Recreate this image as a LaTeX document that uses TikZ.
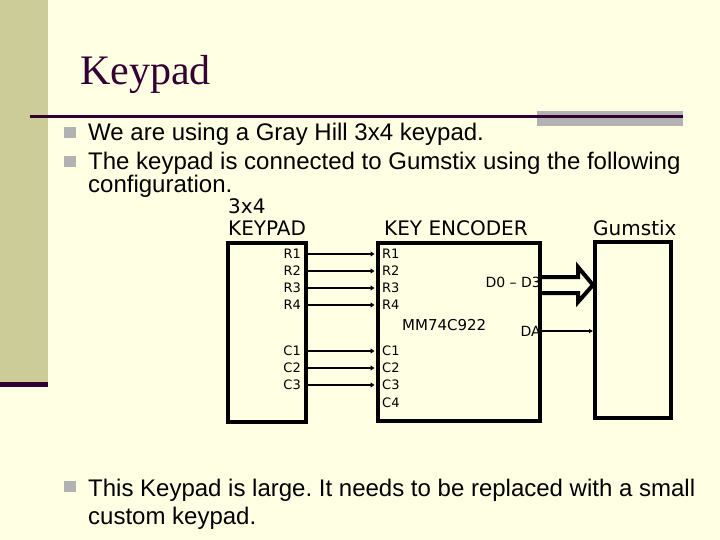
\documentclass[tikz,border=0pt]{standalone}
\usepackage{fontspec}
\setmainfont{Liberation Sans}
\newfontfamily\titlefont{Liberation Serif}
\newfontfamily\schemfont{DejaVu Sans}
\usepackage{xcolor}
\usetikzlibrary{positioning, arrows.meta, calc}
\frenchspacing

\definecolor{slidebg}{HTML}{FFFFE3}
\definecolor{stripcol}{HTML}{CCCC99}
\definecolor{plum}{HTML}{330033}
\definecolor{bulletgray}{HTML}{B2B2B2}

\tikzset{
  bodytext/.style={anchor=base west, inner sep=0pt, font=\fontsize{24}{28}\selectfont},
  bulletbox/.style={fill=bulletgray, minimum width=12pt, minimum height=11pt, inner sep=0pt},
  blockbox/.style={draw, line width=4pt, inner sep=0pt},
  boxtitle/.style={anchor=base west, inner sep=0pt, font=\schemfont\fontsize{20}{24}\selectfont},
  pinlabel/.style={inner sep=0pt, font=\schemfont\fontsize{13}{15}\selectfont},
  outlabel/.style={inner sep=0pt, anchor=east, font=\schemfont\fontsize{14}{16}\selectfont},
  pinwire/.style={line width=2pt, shorten >=1.5pt, -{Triangle[length=4pt,width=5pt]}},
  buswire/.style={line width=4pt, line join=miter},
}

\begin{document}
\begin{tikzpicture}[x=1pt, y=-1pt]

    % slide background and left strip
    \fill[slidebg] (0,0) rectangle (720,540);
    \useasboundingbox (0,0) rectangle (720,540);
    \fill[stripcol] (0,0) rectangle (48,382);
    \fill[plum] (0,382) rectangle (48,387);

    % title and rule under it
    \node[anchor=base west, inner sep=0pt, text=plum, font=\titlefont\fontsize{42}{48}\selectfont] (title) at (80,85) {Keypad};
    \fill[bulletgray] (537,111) rectangle (683,126);
    \draw[plum, line width=3pt] (30,117) -- (683,117);

    % bullet points at the top
    \node[bulletbox] (b1) at (69.5,133) {};
    \node[bodytext] (using) at (88,141) {We are using a Gray Hill 3x4 keypad.};
    \node[bulletbox] (b2) at (69.5,162) {};
    \node[bodytext] (conn) at (88,170) {The keypad is connected to Gumstix using the following};
    \node[bodytext] (cfg) at ([yshift=-23pt]conn.base west) {configuration.};

    % the three blocks
    \node[blockbox, minimum width=78pt, minimum height=179pt] (keypad) at (267,332.5) {};
    \node[blockbox, minimum width=162pt, minimum height=178pt] (encoder) at (459,332) {};
    \node[blockbox, minimum width=76pt, minimum height=176pt] (gumstix) at (633,330) {};

    % block titles
    \node[boxtitle] (kpname) at ($(keypad.north west)+(2,-5)$) {KEYPAD};
    \node[boxtitle] (kpsize) at ([yshift=22pt]kpname.base west) {3x4};
    \node[boxtitle] (encname) at ($(encoder.north west)+(8,-5)$) {KEY ENCODER};
    \node[boxtitle] (gsname) at ($(gumstix.north west)+(0,-4)$) {Gumstix};

    % row and column lines
    \foreach \pin/\y in {R1/254, R2/271, R3/288, R4/305, C1/351, C2/368, C3/385}{
        \node[pinlabel, anchor=east] (k\pin) at (301,\y) {\pin};
        \node[pinlabel, anchor=west] (e\pin) at (382,\y) {\pin};
        \draw[pinwire] (k\pin -| keypad.east) -- (e\pin -| encoder.west);
    }
    \node[pinlabel, anchor=west] (eC4) at (382,403) {C4};
    \node[pinlabel, anchor=west, font=\schemfont\fontsize{15}{18}\selectfont] (chip) at (402,325) {MM74C922};

    % data bus and data available line
    \node[outlabel] (bus) at ([xshift=-1pt]encoder.east |- 0,282) {D0 – D3};
    \coordinate (busL) at (encoder.east |- 0,285);
    \coordinate (busR) at (gumstix.west |- 0,285);
    \draw[buswire] ($(busL)+(0,-8)$) -- ($(busR)+(-15,-8)$) -- ++(0,-10) -- (busR)
        -- ($(busR)+(-15,17)$) -- ++(0,-9) -- ($(busL)+(0,8)$);
    \node[outlabel] (da) at ([xshift=-1pt]encoder.east |- 0,331) {DA};
    \draw[line width=1.5pt, -{Triangle[length=4pt,width=4pt]}] (da.east) -- (da.east -| gumstix.west);

    % bullet point at the bottom
    \node[bulletbox] (b3) at (69.5,486.5) {};
    \node[bodytext] (large) at (88,496) {This Keypad is large. It needs to be replaced with a small};
    \node[bodytext] (custom) at ([yshift=-28pt]large.base west) {custom keypad.};

\end{tikzpicture}
\end{document}
